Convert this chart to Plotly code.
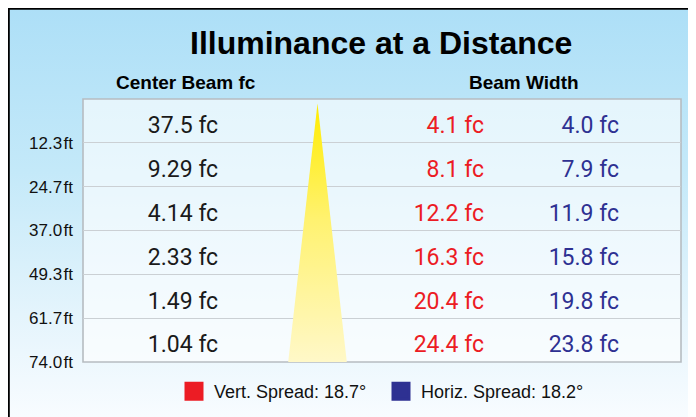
import base64
import plotly.graph_objects as go

# ---------------- data ----------------
distances_ft = [12.3, 24.7, 37.0, 49.3, 61.7, 74.0]
center_beam_fc = [37.5, 9.29, 4.14, 2.33, 1.49, 1.04]
vert_beam_width = [4.1, 8.1, 12.2, 16.3, 20.4, 24.4]
horiz_beam_width = [4.0, 7.9, 11.9, 15.8, 19.8, 23.8]
vert_spread_deg = 18.7
horiz_spread_deg = 18.2

title_text = "Illuminance at a Distance"
header_center = "Center Beam fc"
header_width = "Beam Width"

# ---------------- layout geometry (page pixels) ----------------
PAGE_W, PAGE_H = 696, 417
OFF = 8                      # default body margin of the html page
W, H = PAGE_W - OFF, PAGE_H - OFF
L, R, T, B = 83, 681, 99, 362   # panel box in page pixels


def px(x):
    return (x - L) / (R - L)


def py(y):
    return (B - y) / (B - T)


n = len(distances_ft)
rows = list(range(n))
text_y = [i + 0.65 for i in rows]

RED = "#ec1c24"
BLUE = "#2e3192"
SANS = "Liberation Sans, Arial, sans-serif"
VAL = "Roboto, sans-serif"

fig = go.Figure()

# beam cone
cx, hw = px(317.5), 29.3 / (R - L)
fig.add_trace(go.Scatter(
    x=[cx, cx + hw, cx - hw, cx], y=[0.1, n, n, 0.1],
    mode="lines", line=dict(width=0, color="rgba(0,0,0,0)"), fill="toself",
    fillgradient=dict(type="vertical",
                      colorscale=[[0, "#fff8c8"], [0.55, "#fff270"], [1, "#ffec00"]]),
    hoverinfo="skip", showlegend=False))

# center beam values
fig.add_trace(go.Scatter(
    x=[px(183)] * n, y=text_y, mode="text",
    text=[f"{v} fc" for v in center_beam_fc], textposition="middle center",
    textfont=dict(family=VAL, size=23, color="#1a1a1a"),
    hoverinfo="skip", showlegend=False))

# vertical beam width
fig.add_trace(go.Scatter(
    x=[px(484)] * n, y=text_y, mode="text",
    text=[f"{v} fc" for v in vert_beam_width], textposition="middle left",
    textfont=dict(family=VAL, size=23, color=RED),
    hoverinfo="skip", showlegend=False))

# horizontal beam width
fig.add_trace(go.Scatter(
    x=[px(619)] * n, y=text_y, mode="text",
    text=[f"{v} fc" for v in horiz_beam_width], textposition="middle left",
    textfont=dict(family=VAL, size=23, color=BLUE),
    hoverinfo="skip", showlegend=False))

# legend entries
fig.add_trace(go.Scatter(
    x=[None], y=[None], mode="markers", name=f"Vert. Spread: {vert_spread_deg}°",
    marker=dict(symbol="square", size=16, color=RED, line=dict(width=3, color=RED))))
fig.add_trace(go.Scatter(
    x=[None], y=[None], mode="markers", name=f"Horiz. Spread: {horiz_spread_deg}°",
    marker=dict(symbol="square", size=16, color=BLUE, line=dict(width=3, color=BLUE))))

# background gradient image
svg = (
    '<svg xmlns="http://www.w3.org/2000/svg" width="100" height="100" preserveAspectRatio="none">'
    '<defs><linearGradient id="g" x1="0" y1="0" x2="0" y2="1">'
    '<stop offset="0" stop-color="#addff7"/>'
    '<stop offset="0.4" stop-color="#c4e9f9"/>'
    '<stop offset="0.75" stop-color="#e4f4fc"/>'
    '<stop offset="1" stop-color="#f8fcff"/>'
    '</linearGradient></defs>'
    '<rect x="0" y="0" width="100" height="100" fill="url(#g)"/></svg>'
)
src = "data:image/svg+xml;base64," + base64.b64encode(svg.encode()).decode()

fig.update_layout(
    width=W, height=H,
    margin=dict(l=L - OFF, r=PAGE_W - R, t=T - OFF, b=PAGE_H - B, autoexpand=False),
    paper_bgcolor="white", plot_bgcolor="rgba(0,0,0,0)",
    images=[dict(source=src, xref="paper", yref="paper",
                 x=px(OFF), y=py(OFF), sizex=px(PAGE_W) - px(OFF), sizey=py(OFF) - py(PAGE_H),
                 xanchor="left", yanchor="top", sizing="stretch", layer="below")],
    shapes=[
        dict(type="rect", xref="paper", yref="paper", x0=0, x1=1, y0=0, y1=1,
             fillcolor="rgba(255,255,255,0.62)", line=dict(color="#b6bcc1", width=1.6),
             layer="below"),
        dict(type="line", xref="paper", yref="paper", x0=px(OFF), x1=px(PAGE_W),
             y0=py(OFF + 0.9), y1=py(OFF + 0.9), line=dict(color="black", width=1.8)),
        dict(type="line", xref="paper", yref="paper", x0=px(OFF + 0.9), x1=px(OFF + 0.9),
             y0=py(OFF), y1=py(PAGE_H), line=dict(color="black", width=1.8)),
    ],
    annotations=[
        dict(text=f"<b>{title_text}</b>", xref="paper", yref="paper", x=px(381), y=py(42.5),
             xanchor="center", yanchor="middle", showarrow=False,
             font=dict(family=SANS, size=32, color="black")),
        dict(text=f"<b>{header_center}</b>", xref="paper", yref="paper", x=px(186), y=py(82),
             xanchor="center", yanchor="middle", showarrow=False,
             font=dict(family=SANS, size=19, color="black")),
        dict(text=f"<b>{header_width}</b>", xref="paper", yref="paper", x=px(524), y=py(82),
             xanchor="center", yanchor="middle", showarrow=False,
             font=dict(family=SANS, size=19, color="black")),
    ],
    xaxis=dict(range=[0, 1], visible=False, fixedrange=True),
    yaxis=dict(range=[n, 0], tickvals=[i + 1 for i in rows],
               ticktext=[f"{d:.1f}\u200aft" for d in distances_ft],
               showgrid=True, gridcolor="#cbd0d4", gridwidth=1.3, zeroline=False,
               ticks="", ticklabelstandoff=9, showline=False,
               tickfont=dict(family=SANS, size=17, color="#111"), fixedrange=True),
    showlegend=True,
    legend=dict(orientation="h", x=px(174), y=py(391.5), xanchor="left", yanchor="middle",
                bgcolor="rgba(0,0,0,0)", borderwidth=0,
                entrywidth=162, entrywidthmode="pixels",
                font=dict(family=SANS, size=18, color="#111")),
)

fig.write_html("out.html")
